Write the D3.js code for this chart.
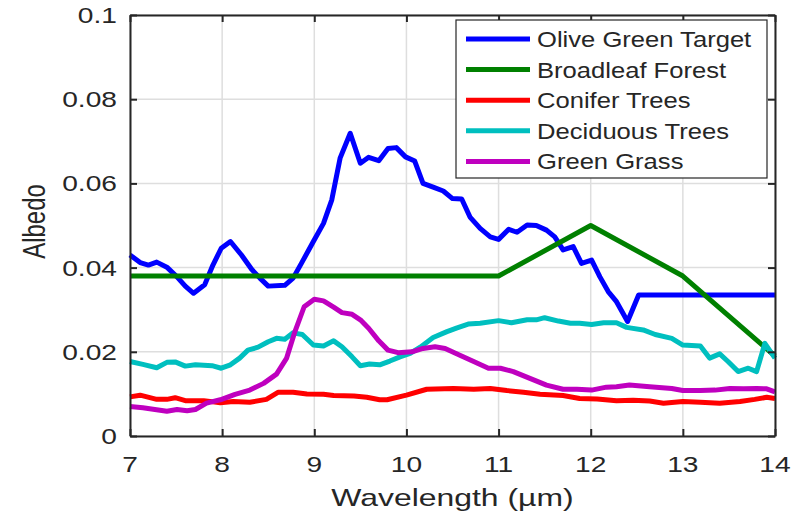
<!DOCTYPE html>
<html>
<head>
<meta charset="utf-8">
<script src="https://cdn.jsdelivr.net/npm/d3@7"></script>
<style>
  html, body { margin: 0; padding: 0; background: #fff; }
  svg { display: block; }
  text { font-family: "Liberation Sans", Arial, Helvetica, sans-serif; fill: #262626; }
</style>
</head>
<body>
<svg id="chart" width="799" height="517"></svg>
<script>
// Spectral albedo of vegetation and the target, 7–14 µm
const seriesNames = ["Olive Green Target", "Broadleaf Forest", "Conifer Trees", "Deciduous Trees", "Green Grass"];
const seriesColors = ["#0000ff", "#008000", "#ff0000", "#00bfbf", "#bf00bf"];

const targetWl = [7.0, 7.11, 7.2, 7.29, 7.4, 7.51, 7.6, 7.69, 7.81, 7.9, 7.99, 8.09, 8.21, 8.32, 8.41, 8.5, 8.68, 8.77, 8.86, 8.99, 9.1, 9.19, 9.28, 9.39, 9.5, 9.59, 9.7, 9.8, 9.89, 9.99, 10.09, 10.18, 10.29, 10.4, 10.5, 10.6, 10.69, 10.8, 10.91, 11.0, 11.11, 11.2, 11.31, 11.41, 11.52, 11.61, 11.7, 11.81, 11.9, 12.01, 12.1, 12.19, 12.28, 12.4, 12.52, 14.0];
const targetAlb = [0.0430, 0.0412, 0.0406, 0.0413, 0.0401, 0.0378, 0.0356, 0.0339, 0.0359, 0.0406, 0.0446, 0.0462, 0.0430, 0.0396, 0.0375, 0.0356, 0.0358, 0.0375, 0.0410, 0.0462, 0.0505, 0.0561, 0.0660, 0.0719, 0.0648, 0.0662, 0.0654, 0.0683, 0.0685, 0.0663, 0.0653, 0.0600, 0.0591, 0.0582, 0.0564, 0.0563, 0.0520, 0.0493, 0.0473, 0.0467, 0.0491, 0.0484, 0.0501, 0.0500, 0.0489, 0.0473, 0.0442, 0.0450, 0.0410, 0.0418, 0.0378, 0.0343, 0.0319, 0.0272, 0.0335, 0.0335];

const forestWl = [7, 8, 9, 10, 11, 12, 13, 14];
const forestAlb = [0.038, 0.038, 0.038, 0.038, 0.038, 0.050, 0.038, 0.019];

const coniferWl = [7.0, 7.11, 7.29, 7.4, 7.49, 7.6, 7.8, 7.98, 8.12, 8.3, 8.48, 8.61, 8.77, 8.92, 9.1, 9.21, 9.43, 9.57, 9.71, 9.79, 10.0, 10.22, 10.51, 10.73, 10.91, 11.09, 11.27, 11.45, 11.7, 11.88, 12.07, 12.28, 12.46, 12.64, 12.79, 13.0, 13.19, 13.4, 13.62, 13.78, 13.91, 14.0];
const coniferAlb = [0.0093, 0.0097, 0.0087, 0.0087, 0.0091, 0.0084, 0.0084, 0.0079, 0.0082, 0.0080, 0.0087, 0.0104, 0.0104, 0.0100, 0.0099, 0.0096, 0.0095, 0.0092, 0.0086, 0.0086, 0.0097, 0.0111, 0.0113, 0.0111, 0.0113, 0.0108, 0.0104, 0.0099, 0.0096, 0.0089, 0.0088, 0.0084, 0.0085, 0.0083, 0.0078, 0.0082, 0.0080, 0.0078, 0.0082, 0.0087, 0.0092, 0.0089];

const deciduousWl = [7.0, 7.14, 7.29, 7.4, 7.49, 7.6, 7.71, 7.89, 7.99, 8.09, 8.19, 8.28, 8.39, 8.5, 8.59, 8.68, 8.77, 8.87, 8.99, 9.1, 9.21, 9.3, 9.41, 9.5, 9.6, 9.71, 9.82, 9.93, 10.04, 10.15, 10.29, 10.44, 10.55, 10.67, 10.8, 11.0, 11.14, 11.31, 11.41, 11.5, 11.65, 11.78, 11.88, 12.01, 12.14, 12.28, 12.39, 12.57, 12.7, 12.88, 13.0, 13.19, 13.29, 13.4, 13.49, 13.6, 13.71, 13.8, 13.89, 14.0];
const deciduousAlb = [0.0177, 0.0170, 0.0162, 0.0175, 0.0176, 0.0166, 0.0169, 0.0167, 0.0161, 0.0169, 0.0185, 0.0204, 0.0211, 0.0224, 0.0232, 0.0230, 0.0245, 0.0241, 0.0216, 0.0214, 0.0226, 0.0212, 0.0188, 0.0167, 0.0171, 0.0169, 0.0178, 0.0188, 0.0196, 0.0211, 0.0234, 0.0248, 0.0257, 0.0266, 0.0268, 0.0274, 0.0269, 0.0276, 0.0276, 0.0281, 0.0273, 0.0268, 0.0268, 0.0265, 0.0269, 0.0269, 0.0258, 0.0252, 0.0241, 0.0232, 0.0216, 0.0214, 0.0185, 0.0195, 0.0177, 0.0153, 0.0161, 0.0153, 0.0220, 0.0185];

const grassWl = [7.0, 7.14, 7.27, 7.4, 7.51, 7.62, 7.71, 7.83, 7.98, 8.14, 8.3, 8.45, 8.59, 8.7, 8.79, 8.89, 9.0, 9.1, 9.21, 9.3, 9.41, 9.5, 9.59, 9.7, 9.8, 9.91, 10.06, 10.18, 10.31, 10.42, 10.58, 10.7, 10.89, 11.02, 11.16, 11.34, 11.52, 11.7, 11.85, 12.01, 12.17, 12.28, 12.42, 12.64, 12.88, 13.0, 13.19, 13.35, 13.51, 13.66, 13.8, 13.91, 14.0];
const grassAlb = [0.0070, 0.0067, 0.0063, 0.0059, 0.0063, 0.0060, 0.0063, 0.0078, 0.0086, 0.0099, 0.0109, 0.0125, 0.0147, 0.0185, 0.0248, 0.0307, 0.0325, 0.0321, 0.0306, 0.0293, 0.0289, 0.0276, 0.0256, 0.0226, 0.0204, 0.0198, 0.0200, 0.0208, 0.0212, 0.0208, 0.0192, 0.0180, 0.0161, 0.0161, 0.0153, 0.0137, 0.0121, 0.0111, 0.0111, 0.0109, 0.0116, 0.0117, 0.0121, 0.0117, 0.0113, 0.0108, 0.0108, 0.0109, 0.0113, 0.0112, 0.0113, 0.0112, 0.0105];

const xTicks = [7, 8, 9, 10, 11, 12, 13, 14];
const yTicks = [0, 0.02, 0.04, 0.06, 0.08, 0.1];
const yTickLabels = ["0", "0.02", "0.04", "0.06", "0.08", "0.1"];

const wlSets = [targetWl, forestWl, coniferWl, deciduousWl, grassWl];
const albSets = [targetAlb, forestAlb, coniferAlb, deciduousAlb, grassAlb];

// Layout
const plot = { left: 130, right: 775, top: 15, bottom: 436 };
const textStretch = 1.28;
const axisColor = "#262626";

const svg = d3.select("#chart");
const x = d3.scaleLinear().domain([7, 14]).range([plot.left, plot.right]);
const y = d3.scaleLinear().domain([0, 0.1]).range([plot.bottom, plot.top]);

// Horizontally widened text, anchored at (tx, ty)
function label(g, tx, ty, str, size, anchor, sx) {
  return g.append("text")
    .attr("transform", `translate(${tx},${ty}) scale(${sx},1)`)
    .attr("text-anchor", anchor)
    .attr("font-size", size)
    .text(str);
}

// Grid
const grid = svg.append("g");
grid.selectAll("line.gx").data(xTicks).join("line")
  .attr("x1", d => x(d)).attr("x2", d => x(d))
  .attr("y1", plot.top).attr("y2", plot.bottom)
  .attr("stroke", "#dedede").attr("stroke-width", 1.5);
grid.selectAll("line.gy").data(yTicks).join("line")
  .attr("y1", d => y(d)).attr("y2", d => y(d))
  .attr("x1", plot.left).attr("x2", plot.right)
  .attr("stroke", "#dedede").attr("stroke-width", 1.5);

// Series
const line = d3.line().x(d => x(d[0])).y(d => y(d[1]));
const lines = svg.append("g");
seriesNames.forEach((name, i) => {
  const pts = wlSets[i].map((w, k) => [w, albSets[i][k]]);
  lines.append("path")
    .datum(pts)
    .attr("d", line)
    .attr("fill", "none")
    .attr("stroke", seriesColors[i])
    .attr("stroke-width", 5)
    .attr("stroke-linejoin", "round")
    .attr("stroke-linecap", "butt");
});

// Axes: box with inward ticks on all four sides
const axes = svg.append("g");
const tickLen = 7;
axes.append("g").attr("transform", `translate(0,${plot.bottom})`)
  .call(d3.axisBottom(x).tickValues(xTicks).tickSizeInner(-tickLen).tickSizeOuter(0).tickFormat(""));
axes.append("g").attr("transform", `translate(0,${plot.top})`)
  .call(d3.axisTop(x).tickValues(xTicks).tickSizeInner(-tickLen).tickSizeOuter(0).tickFormat(""));
axes.append("g").attr("transform", `translate(${plot.left},0)`)
  .call(d3.axisLeft(y).tickValues(yTicks).tickSizeInner(-tickLen).tickSizeOuter(0).tickFormat(""));
axes.append("g").attr("transform", `translate(${plot.right},0)`)
  .call(d3.axisRight(y).tickValues(yTicks).tickSizeInner(-tickLen).tickSizeOuter(0).tickFormat(""));
axes.selectAll(".domain, .tick line").attr("stroke", axisColor).attr("stroke-width", 2);

// Tick labels
const tl = svg.append("g");
xTicks.forEach(t => label(tl, x(t), 472, String(t), 22, "middle", textStretch));
yTicks.forEach((t, i) => label(tl, plot.left - 13, y(t) + 8, yTickLabels[i], 22, "end", textStretch));

// Axis titles
label(svg, (plot.left + plot.right) / 2, 506, "Wavelength (\u00b5m)", 24, "middle", 1.33);
svg.append("text")
  .attr("transform", `translate(45,${(plot.top + plot.bottom) / 2 - 4}) rotate(-90) scale(1,1.3)`)
  .attr("text-anchor", "middle")
  .attr("font-size", 24)
  .text("Albedo");

// Legend
const lg = svg.append("g");
lg.append("rect")
  .attr("x", 456).attr("y", 20).attr("width", 311).attr("height", 158)
  .attr("fill", "#fff").attr("stroke", axisColor).attr("stroke-width", 1.2);
seriesNames.forEach((name, i) => {
  const ry = 39 + i * 30.6;
  lg.append("line")
    .attr("x1", 466).attr("x2", 530).attr("y1", ry).attr("y2", ry)
    .attr("stroke", seriesColors[i]).attr("stroke-width", 5);
  label(lg, 537, ry + 8, name, 21.5, "start", 1.19).attr("fill", "#000");
});
</script>
</body>
</html>
